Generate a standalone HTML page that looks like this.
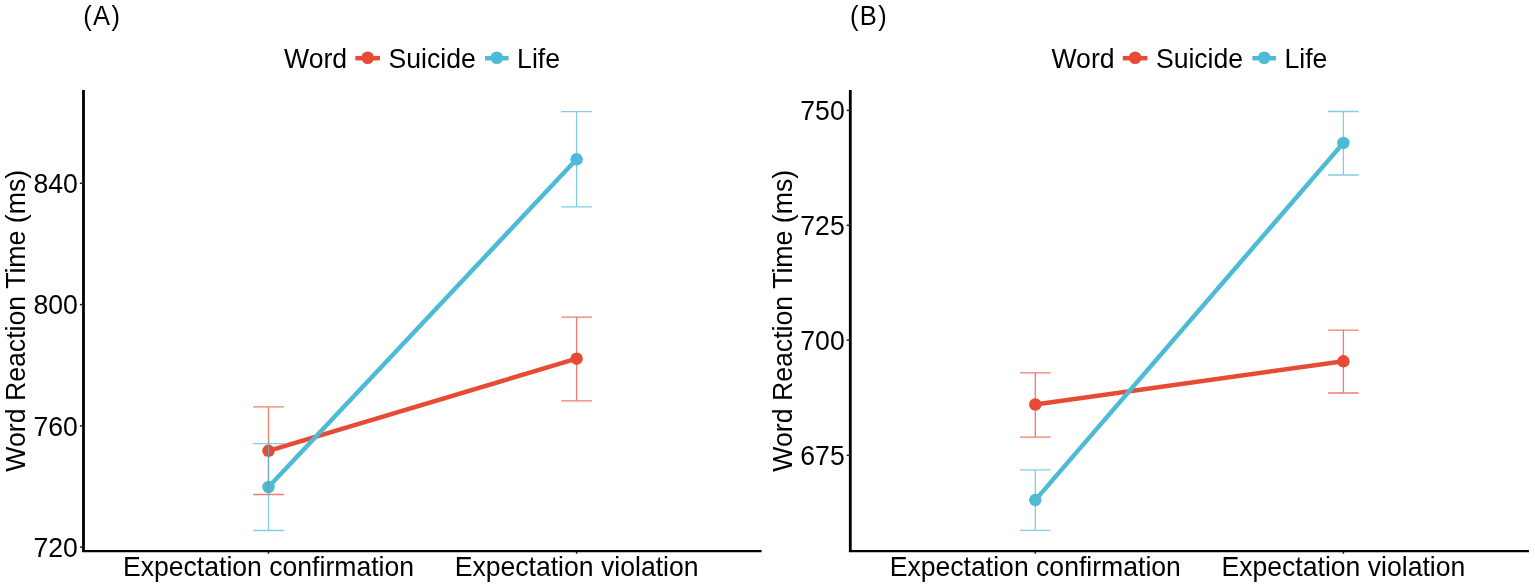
<!DOCTYPE html>
<html><head><meta charset="utf-8"><title>Word Reaction Time</title>
<style>html,body{margin:0;padding:0;background:#fff;}svg{display:block;font-family:"Liberation Sans",Arial,sans-serif;}</style>
</head><body>
<svg width="1535" height="587" viewBox="0 0 1535 587">
<rect width="1535" height="587" fill="#fff"/>
<g fill="#000">
<text transform="translate(83.20 24.6) scale(1 1.05)" font-size="25.5" letter-spacing="1.4"><tspan dy="0.6">(</tspan><tspan dy="-0.6">A</tspan><tspan dy="0.6">)</tspan></text>
<text transform="translate(284.10 67.50) scale(1 1.04)" font-size="26.6">Word</text>
<line x1="355.4" y1="58.2" x2="380.0" y2="58.2" stroke="#E64B35" stroke-width="4.5"/>
<circle cx="367.7" cy="57.8" r="6.3" fill="#E64B35"/>
<text transform="translate(388.50 67.50) scale(1 1.04)" font-size="26.6">Suicide</text>
<line x1="485.0" y1="58.2" x2="508.5" y2="58.2" stroke="#4DBBD5" stroke-width="4.5"/>
<circle cx="496.8" cy="57.8" r="6.3" fill="#4DBBD5"/>
<text transform="translate(517.10 67.50) scale(1 1.04)" font-size="26.6">Life</text>
<line x1="83.5" y1="90" x2="83.5" y2="551.8" stroke="#000" stroke-width="2.8"/>
<line x1="82.1" y1="551.1" x2="761.6" y2="551.1" stroke="#000" stroke-width="2.1"/>
<line x1="79.9" y1="183.3" x2="83.5" y2="183.3" stroke="#222" stroke-width="1.5"/>
<text transform="translate(77.90 192.90) scale(1 1.04)" font-size="26.6" text-anchor="end">840</text>
<line x1="79.9" y1="304.6" x2="83.5" y2="304.6" stroke="#222" stroke-width="1.5"/>
<text transform="translate(77.90 314.20) scale(1 1.04)" font-size="26.6" text-anchor="end">800</text>
<line x1="79.9" y1="425.9" x2="83.5" y2="425.9" stroke="#222" stroke-width="1.5"/>
<text transform="translate(77.90 435.50) scale(1 1.04)" font-size="26.6" text-anchor="end">760</text>
<line x1="79.9" y1="547.1" x2="83.5" y2="547.1" stroke="#222" stroke-width="1.5"/>
<text transform="translate(77.90 556.70) scale(1 1.04)" font-size="26.6" text-anchor="end">720</text>
<line x1="268.5" y1="551.5" x2="268.5" y2="553.8" stroke="#222" stroke-width="1.5"/>
<line x1="576.6" y1="551.5" x2="576.6" y2="553.8" stroke="#222" stroke-width="1.5"/>
<text transform="translate(268.50 575.70) scale(1 1.04)" font-size="26.6" text-anchor="middle">Expectation confirmation</text>
<text transform="translate(576.60 575.70) scale(1 1.04)" font-size="26.6" text-anchor="middle">Expectation violation</text>
<text transform="translate(25.1 320.8) rotate(-90) scale(1 1.04)" font-size="26.7" text-anchor="middle">Word Reaction Time (ms)</text>
<line x1="268.5" y1="450.8" x2="576.6" y2="358.7" stroke="#E64B35" stroke-width="4.5"/>
<line x1="268.5" y1="487.0" x2="576.6" y2="159.3" stroke="#4DBBD5" stroke-width="4.5"/>
<circle cx="268.5" cy="450.8" r="6.25" fill="#E64B35"/>
<circle cx="576.6" cy="358.7" r="6.25" fill="#E64B35"/>
<circle cx="268.5" cy="487.0" r="6.25" fill="#4DBBD5"/>
<circle cx="576.6" cy="159.3" r="6.25" fill="#4DBBD5"/>
<g fill="none" stroke-width="1.3" stroke-opacity="0.72">
<path d="M253.2 406.9H283.8M268.5 406.9V494.5M253.2 494.5H283.8" stroke="#E64B35"/>
<path d="M561.3 317.2H591.9M576.6 317.2V400.9M561.3 400.9H591.9" stroke="#E64B35"/>
<path d="M253.2 443.7H283.8M268.5 443.7V530.5M253.2 530.5H283.8" stroke="#4DBBD5"/>
<path d="M561.3 111.7H591.9M576.6 111.7V206.8M561.3 206.8H591.9" stroke="#4DBBD5"/>
</g>
<text transform="translate(849.90 24.6) scale(1 1.05)" font-size="25.5" letter-spacing="1.4"><tspan dy="0.6">(</tspan><tspan dy="-0.6">B</tspan><tspan dy="0.6">)</tspan></text>
<text transform="translate(1051.50 67.50) scale(1 1.04)" font-size="26.6">Word</text>
<line x1="1122.8" y1="58.2" x2="1147.4" y2="58.2" stroke="#E64B35" stroke-width="4.5"/>
<circle cx="1135.1" cy="57.8" r="6.3" fill="#E64B35"/>
<text transform="translate(1155.90 67.50) scale(1 1.04)" font-size="26.6">Suicide</text>
<line x1="1252.4" y1="58.2" x2="1275.9" y2="58.2" stroke="#4DBBD5" stroke-width="4.5"/>
<circle cx="1264.2" cy="57.8" r="6.3" fill="#4DBBD5"/>
<text transform="translate(1284.50 67.50) scale(1 1.04)" font-size="26.6">Life</text>
<line x1="850.3" y1="90" x2="850.3" y2="551.8" stroke="#000" stroke-width="2.8"/>
<line x1="848.9" y1="551.1" x2="1529" y2="551.1" stroke="#000" stroke-width="2.1"/>
<line x1="846.6999999999999" y1="110.4" x2="850.3" y2="110.4" stroke="#222" stroke-width="1.5"/>
<text transform="translate(844.70 120.00) scale(1 1.04)" font-size="26.6" text-anchor="end">750</text>
<line x1="846.6999999999999" y1="225.3" x2="850.3" y2="225.3" stroke="#222" stroke-width="1.5"/>
<text transform="translate(844.70 234.90) scale(1 1.04)" font-size="26.6" text-anchor="end">725</text>
<line x1="846.6999999999999" y1="340.2" x2="850.3" y2="340.2" stroke="#222" stroke-width="1.5"/>
<text transform="translate(844.70 349.80) scale(1 1.04)" font-size="26.6" text-anchor="end">700</text>
<line x1="846.6999999999999" y1="455.3" x2="850.3" y2="455.3" stroke="#222" stroke-width="1.5"/>
<text transform="translate(844.70 464.90) scale(1 1.04)" font-size="26.6" text-anchor="end">675</text>
<line x1="1035.3" y1="551.5" x2="1035.3" y2="553.8" stroke="#222" stroke-width="1.5"/>
<line x1="1343.4" y1="551.5" x2="1343.4" y2="553.8" stroke="#222" stroke-width="1.5"/>
<text transform="translate(1035.30 575.70) scale(1 1.04)" font-size="26.6" text-anchor="middle">Expectation confirmation</text>
<text transform="translate(1343.40 575.70) scale(1 1.04)" font-size="26.6" text-anchor="middle">Expectation violation</text>
<text transform="translate(791.8 320.8) rotate(-90) scale(1 1.04)" font-size="26.7" text-anchor="middle">Word Reaction Time (ms)</text>
<line x1="1035.3" y1="404.5" x2="1343.4" y2="361.3" stroke="#E64B35" stroke-width="4.5"/>
<line x1="1035.3" y1="500.1" x2="1343.4" y2="142.9" stroke="#4DBBD5" stroke-width="4.5"/>
<circle cx="1035.3" cy="404.5" r="6.25" fill="#E64B35"/>
<circle cx="1343.4" cy="361.3" r="6.25" fill="#E64B35"/>
<circle cx="1035.3" cy="500.1" r="6.25" fill="#4DBBD5"/>
<circle cx="1343.4" cy="142.9" r="6.25" fill="#4DBBD5"/>
<g fill="none" stroke-width="1.3" stroke-opacity="0.72">
<path d="M1020.0 372.9H1050.6M1035.3 372.9V437.1M1020.0 437.1H1050.6" stroke="#E64B35"/>
<path d="M1328.1 330.2H1358.7M1343.4 330.2V393.0M1328.1 393.0H1358.7" stroke="#E64B35"/>
<path d="M1020.0 469.8H1050.6M1035.3 469.8V530.3M1020.0 530.3H1050.6" stroke="#4DBBD5"/>
<path d="M1328.1 111.5H1358.7M1343.4 111.5V175.0M1328.1 175.0H1358.7" stroke="#4DBBD5"/>
</g>
</g>
</svg>
</body></html>
